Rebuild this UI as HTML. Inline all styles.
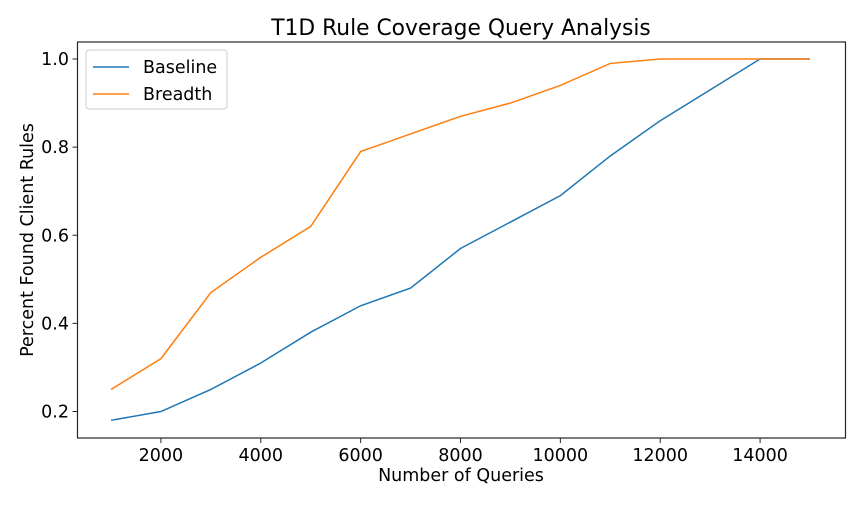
<!DOCTYPE html>
<html><head><meta charset="utf-8"><style>
body{margin:0;background:#fff;}
svg text{font-family:"DejaVu Sans","Liberation Sans",sans-serif;fill:#000;}
</style></head><body>
<svg id="chart" width="864" height="504" xmlns="http://www.w3.org/2000/svg">
<text x="461" y="35" font-size="21.8" text-anchor="middle">T1D Rule Coverage Query Analysis</text>
<g id="grid"></g>
<g id="lines"></g>
<rect x="77.5" y="42" width="768" height="396" fill="none" stroke="#262626" stroke-width="1.2"/>
<text x="461" y="481" font-size="17.5" text-anchor="middle">Number of Queries</text>
<text transform="translate(33,240) rotate(-90)" font-size="17.5" text-anchor="middle">Percent Found Client Rules</text>
<g>
<rect x="86" y="50" width="141" height="59" rx="3" fill="#fff" stroke="#ccc"/>
<line x1="93" y1="67" x2="129" y2="67" stroke="#1f77b4" stroke-width="1.5"/>
<text x="143" y="73" font-size="17.5">Baseline</text>
<line x1="93" y1="94" x2="129" y2="94" stroke="#ff7f0e" stroke-width="1.5"/>
<text x="143" y="100" font-size="17.5">Breadth</text>
</g>
</svg>
<script>
const queries=[1000,2000,3000,4000,5000,6000,7000,8000,9000,10000,11000,12000,13000,14000,15000];
const baseline=[0.18,0.20,0.25,0.31,0.38,0.44,0.48,0.57,0.63,0.69,0.78,0.86,0.93,1.0,1.0];
const breadth=[0.25,0.32,0.47,0.55,0.62,0.79,0.83,0.87,0.90,0.94,0.99,1.0,1.0,1.0,1.0];
const xTicks=[2000,4000,6000,8000,10000,12000,14000];
const yTicks=[0.2,0.4,0.6,0.8,1.0];
const ns="http://www.w3.org/2000/svg";
function xs(v){return 111+(v-1000)*(699/14000);}
function ys(v){return 411.5-(v-0.2)*440.6;}
const g=document.getElementById('grid');
xTicks.forEach(t=>{
 const l=document.createElementNS(ns,'line');
 l.setAttribute('x1',xs(t));l.setAttribute('x2',xs(t));l.setAttribute('y1',438);l.setAttribute('y2',443);l.setAttribute('stroke','#262626');
 
 
 g.appendChild(l);
 const tx=document.createElementNS(ns,'text');
 tx.setAttribute('x',xs(t));tx.setAttribute('y',461);tx.setAttribute('font-size','17.5');tx.setAttribute('text-anchor','middle');
 tx.textContent=t;
 
 
 g.appendChild(tx);
});
yTicks.forEach(t=>{
 const l=document.createElementNS(ns,'line');
 l.setAttribute('x1',72.5);l.setAttribute('x2',77.5);l.setAttribute('y1',ys(t));l.setAttribute('y2',ys(t));l.setAttribute('stroke','#262626');
 
 
 g.appendChild(l);
 const tx=document.createElementNS(ns,'text');
 tx.setAttribute('x',69);tx.setAttribute('y',ys(t)+6);tx.setAttribute('font-size','17.5');tx.setAttribute('text-anchor','end');
 tx.textContent=t.toFixed(1);
 
 
 g.appendChild(tx);
});
const lg=document.getElementById('lines');
function draw(vals,color,name){
 const p=document.createElementNS(ns,'polyline');
 p.setAttribute('points',vals.map((v,i)=>xs(queries[i])+','+ys(v)).join(' '));
 p.setAttribute('fill','none');p.setAttribute('stroke',color);p.setAttribute('stroke-width','1.5');
 
 
 lg.appendChild(p);
}
draw(baseline,'#1f77b4','baseline-line');
draw(breadth,'#ff7f0e','breadth-line');
</script>
</body></html>
